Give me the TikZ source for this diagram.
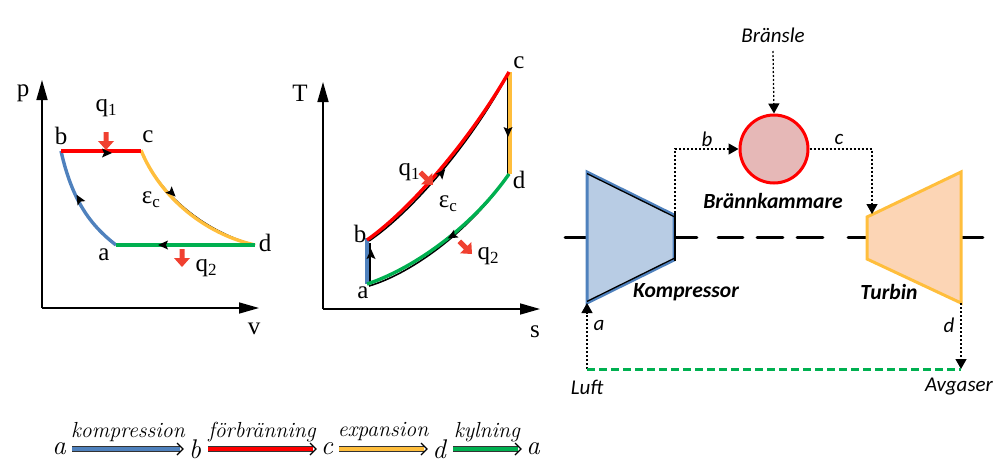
\documentclass[tikz,border=0pt]{standalone}
\usepackage{fontspec}
\usetikzlibrary{arrows.meta}
\newfontfamily\tmf{Liberation Serif}
\newfontfamily\calf{Carlito}
\definecolor{cblue}{HTML}{4F81BD}
\definecolor{cred}{HTML}{FF0000}
\definecolor{cyel}{HTML}{FFBE3C}
\definecolor{cgrn}{HTML}{00B050}
\definecolor{carrow}{HTML}{F04030}
\definecolor{kfill}{HTML}{B8CCE4}
\definecolor{tfill}{HTML}{FCD5B5}
\definecolor{bfill}{HTML}{E6B8B7}
\tikzset{
  tml/.style={font=\tmf\fontsize{25}{27}\selectfont,inner sep=0pt},
  axisline/.style={line width=1.6pt,-{Triangle[width=11pt,length=20pt]}},
  curveblack/.style={black,line width=1.6pt},
  curvecol/.style={line width=3.4pt},
  flow/.style={black,line width=1.3pt,dash pattern=on 2pt off 2pt,-{Triangle[width=11pt,length=10pt]}},
  compl/.style={font=\calf\itshape\fontsize{21}{23}\selectfont,inner sep=0pt},
  complb/.style={font=\calf\bfseries\itshape\fontsize{21.6}{23}\selectfont,inner sep=0pt},
  eqnv/.style={font=\itshape\fontsize{27}{29}\selectfont,inner sep=0pt},
  eqlab/.style={font=\itshape\fontsize{21.8}{24}\selectfont,inner sep=0pt},
  shaftedge/.style={black,line width=1.3pt},
}
\newcommand{\dirtip}[2]{\fill[black,shift={(#1)},rotate=#2] (5,0) -- (-5,-4.5) -- (-3,0) -- (-5,4.5) -- cycle;}
\newcommand{\heat}[2]{\fill[carrow,shift={(#1)},rotate=#2] (0,0) -- (-9,8) -- (-9,2.5) -- (-18,2.5) -- (-18,-2.5) -- (-9,-2.5) -- (-9,-8) -- cycle;}
\newcommand{\subs}[1]{\raisebox{-4pt}{\fontsize{17}{17}\selectfont #1}}
\begin{document}
\begin{tikzpicture}[x=1pt,y=-1pt]
\useasboundingbox (0,0) rectangle (999,466);
% ===== p-v =====
\coordinate (po) at (42,308);
\coordinate (ptop) at (42,80);
\coordinate (pright) at (259,308);
\coordinate (pa) at (116,245);
\coordinate (pb) at (61,151);
\coordinate (pc) at (141,151);
\coordinate (pd) at (255,245);
\draw[axisline] (po) -- (ptop);
\draw[axisline] (po) -- (pright);
\draw[curveblack] (pc) .. controls (160,195) and (205,232) .. (pd);
\draw[curvecol,cyel] ([yshift=0.8pt]pc) .. controls (160,197) and (205,234) .. (pd);
\draw[curvecol,cblue] (pa) .. controls (90,225) and (72,200) .. (pb);
\dirtip{172,193}{-45}
\dirtip{79,199}{120}
\draw[curvecol,cred] (pb) -- (pc);
\draw[curvecol,cgrn] (pa) -- (pd);
\dirtip{107,153}{0}
\dirtip{163,245}{180}
\heat{106,150}{-90}
\heat{182,267}{-90}
\node[tml] (lp) at (23,93) {p};
\node[tml] (lv) at (254,329) {v};
\node[tml] (lb) at (61,136) {b};
\node[tml] (lc) at (148,137) {c};
\node[tml] (ld) at (265,243) {d};
\node[tml] (la) at (104,255) {a};
\node[tml] (lq1) at (106,108) {q\subs{1}};
\node[tml] (lq2) at (206,268) {q\subs{2}};
\node[tml] (le) at (151,200) {ε\subs{c}};
% ===== T-s =====
\coordinate (to) at (323,309);
\coordinate (ttop) at (323,82);
\coordinate (tright) at (540,309);
\coordinate (ta) at (367,284);
\coordinate (tb) at (367,240);
\coordinate (tc) at (509,72);
\coordinate (td) at (509,174);
\draw[axisline] (to) -- (ttop);
\draw[axisline] (to) -- (tright);
\draw[curveblack] (369,286) .. controls (410,274) and (470,232) .. (td);
\draw[curveblack] (369,241) .. controls (412,212) and (472,142) .. (508,74);
\draw[black,line width=1.1pt] (370,284) -- (370,243);
\draw[curveblack] (508,72) -- (508,174);
\draw[curvecol,cblue] (ta) -- ([yshift=2pt]tb);
\draw[curvecol,cyel] ([xshift=1pt]tc) -- ([xshift=1pt]td);
\draw[curvecol,cred] (tb) .. controls (410,210) and (470,140) .. (tc);
\draw[curvecol,cgrn] (ta) .. controls (410,270) and (470,230) .. (td);
\dirtip{371,254}{90}
\dirtip{508,132}{-90}
\dirtip{442,173}{50}
\dirtip{452,236}{-150}
\heat{433,185}{-45}
\heat{472,254}{-45}
\node[tml] (lT) at (300,93) {T};
\node[tml] (ls) at (535,332) {s};
\node[tml] (lc2) at (519,63) {c};
\node[tml] (ld2) at (519,180) {d};
\node[tml] (lb2) at (360,234) {b};
\node[tml] (la2) at (363,293) {a};
\node[tml] (lq12) at (409,172) {q\subs{1}};
\node[tml] (lq22) at (488,256) {q\subs{2}};
\node[tml] (le2) at (448,204) {ε\subs{c}};
% ===== equation =====
\node[eqnv] (e1) at (59,449) {a};
\node[eqnv] (e2) at (195,449) {b};
\node[eqnv] (e3) at (327,449) {c};
\node[eqnv] (e4) at (439,449) {d};
\node[eqnv] (e5) at (533,449) {a};
\foreach \colr/\xa/\xb in {cblue/72/183,cred/208/316,cyel/339/427,cgrn/453/521}{
  \coordinate (s1) at (\xa,449);
  \coordinate (s2) at (\xb,449);
  \draw[black!80,line width=6pt] (s1) -- ([xshift=-3pt]s2);
  \draw[\colr,line width=3.4pt] (s1) -- ([xshift=-3pt]s2);
  \draw[black,line width=1.2pt] ([xshift=-6pt,yshift=6pt]s2) -- (s2) -- ([xshift=-6pt,yshift=-6pt]s2);
}
\node[eqlab] (q1) at (128,432) {kompression};
\node[eqlab] (q2) at (262,432) {förbränning};
\node[eqlab] (q3) at (383,432) {expansion};
\node[eqlab] (q4) at (487,432) {kylning};
% ===== gas turbine =====
\foreach \xa/\xb in {565/586,675/697,718/743,757/783,797/823,848/867,962/983}{
  \coordinate (da) at (\xa,237.7);
  \coordinate (db) at (\xb,237.7);
  \draw[black,line width=2.8pt,line cap=round] (da) -- (db);
}
\coordinate (k1) at (587,172);
\coordinate (k2) at (674,215);
\coordinate (k3) at (674,260);
\coordinate (k4) at (587,303);
\draw[fill=kfill,draw=cblue,line width=3pt,line join=miter] (k1) -- (k2) -- (k3) -- (k4) -- cycle;
\draw[shaftedge] ([yshift=-1.6pt]k1) -- ([yshift=-1.6pt]k2);
\draw[black,line width=1.8pt] (675.2,213) -- (675.2,261);
\draw[shaftedge] ([yshift=1.6pt]k4) -- ([yshift=1.6pt]k3);
\coordinate (t1) at (867,217);
\coordinate (t2) at (961,172);
\coordinate (t3) at (961,303);
\coordinate (t4) at (867,259);
\draw[fill=tfill,draw=cyel,line width=3pt,line join=miter] (t1) -- (t2) -- (t3) -- (t4) -- cycle;
\node[circle,draw=cred,fill=bfill,line width=3pt,minimum size=68pt,inner sep=0pt] (cc) at (774,149) {};
\node[compl] (fuel) at (773,35) {Bränsle};
\node[compl] (nb) at (707,139) {b};
\node[compl] (nc) at (839,139) {c};
\node[compl] (na) at (599,325) {a};
\node[compl] (nd) at (949,325) {d};
\node[compl] (luft) at (587,387) {Luft};
\node[compl] (avg) at (959,387) {Avgaser};
\node[complb] (bk) at (773,201) {Brännkammare};
\node[complb] (kp) at (686,292) {Kompressor};
\node[complb] (tbn) at (889,292) {Turbin};
\coordinate (fs) at (773,51);
\coordinate (c1) at (675,213);
\coordinate (c2) at (675,149);
\coordinate (c3) at (872,149);
\coordinate (c4) at (872,214);
\coordinate (g1) at (587,369);
\coordinate (g2) at (961,369);
\draw[flow] (fs) -- (cc.north);
\draw[flow] (c1) -- (c2) -- (cc.west);
\draw[flow] (cc.east) -- (c3) -- (c4);
\draw[flow] (g1) -- (k4);
\draw[flow] (t3) -- (g2);
\draw[cgrn,line width=3pt,dash pattern=on 8pt off 4pt] (g1) -- (g2);
\end{tikzpicture}
\end{document}
